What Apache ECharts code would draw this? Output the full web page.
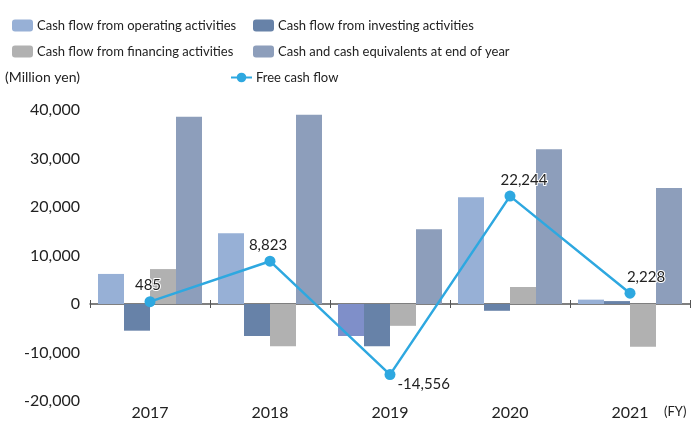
<!DOCTYPE html>
<html>
<head>
<meta charset="utf-8">
<style>
  html, body { margin: 0; padding: 0; background: #fff; }
  #main { width: 694px; height: 422px; }
</style>
<script src="https://cdn.jsdelivr.net/npm/echarts@6/dist/echarts.min.js"></script>
</head>
<body>
<div id="main"></div>
<script>
// values (million yen)
const years = ['2017', '2018', '2019', '2020', '2021'];
const operating = [6200, 14600, -6600, 22000, 900];
const investing = [-5500, -6600, -8700, -1400, 600];
const financing = [7200, -8700, -4500, 3500, -8800];
const cashEnd = [38600, 39000, 15400, 31900, 23900];
const freeCash = [485, 8823, -14556, 22244, 2228];

const names = [
    'Cash flow from operating activities',
    'Cash flow from investing activities',
    'Cash flow from financing activities',
    'Cash and cash equivalents at end of year',
    'Free cash flow',
];

const FONT = 'Lato';
const TXT = '#222';

// one FCF label sits differently per point
const fcfLabels = [
    { position: 'top', distance: 3, offset: [-2, 0] },
    { position: 'top', distance: 3, offset: [-2, 0] },
    { position: 'right', distance: 2, offset: [0, 10] },
    { position: 'top', distance: 3, offset: [14, 0] },
    { position: 'top', distance: 3, offset: [16, 0] },
];

function legendAt(name, left, top) {
    return {
        data: [name],
        left: left,
        top: top,
        itemWidth: 21,
        itemHeight: 12,
        itemGap: 0,
        padding: 0,
        textStyle: { fontFamily: FONT, fontSize: 13, color: TXT, padding: [0, 0, 0, -1] },
    };
}

let chart = echarts.init(document.getElementById('main'));

let option = {
    animation: false,
    legend: [
        legendAt(names[0], 12, 19),
        legendAt(names[1], 253, 19),
        legendAt(names[2], 12, 45),
        legendAt(names[3], 253, 45),
        legendAt(names[4], 230, 71),
    ],
    graphic: [
        {
            type: 'text', left: 5, top: 70,
            style: { text: '(Million yen)', font: '14px Lato', fill: TXT },
        },
        {
            type: 'text', left: 664, top: 405,
            style: { text: '(FY)', font: '13px Lato', fill: TXT },
        },
    ],
    grid: { left: 90, right: 4, top: 110, bottom: 21, containLabel: false },
    xAxis: [
        {
            type: 'category',
            data: years,
            position: 'bottom',
            axisLine: { show: false, onZero: false },
            axisTick: { show: false },
            axisLabel: { margin: 4, fontFamily: FONT, fontSize: 16, color: TXT },
        },
        {
            // zero line, ticks pointing down
            type: 'category',
            data: years,
            position: 'bottom',
            axisLine: { show: true, onZero: true, lineStyle: { color: '#555', width: 1.5 } },
            axisTick: { show: true, length: 4, lineStyle: { color: '#555' } },
            axisLabel: { show: false },
        },
        {
            // upper half of the ticks, lifted onto the zero line
            type: 'category',
            data: years,
            position: 'bottom',
            offset: -97,
            axisLine: { show: false, onZero: false },
            axisTick: { show: true, inside: true, length: 4, lineStyle: { color: '#555' } },
            axisLabel: { show: false },
        },
    ],
    yAxis: {
        type: 'value',
        min: -20000,
        max: 40000,
        interval: 10000,
        splitLine: { show: false },
        axisLine: { show: false },
        axisTick: { show: false },
        axisLabel: {
            margin: 10,
            fontFamily: FONT,
            fontSize: 16,
            color: TXT,
            formatter: function (v) {
                return v.toLocaleString('en-US');
            },
        },
    },
    series: [
        {
            name: names[0],
            type: 'bar',
            barWidth: 26,
            barGap: 0,
            itemStyle: { color: '#97b0d6' },
            data: operating.map(function (v, i) {
                // the 2019 bar is drawn in a different tint in the source
                return i === 2 ? { value: v, itemStyle: { color: '#7f8fc9' } } : v;
            }),
        },
        {
            name: names[1],
            type: 'bar',
            barWidth: 26,
            barGap: 0,
            itemStyle: { color: '#6782a8' },
            data: investing,
        },
        {
            name: names[2],
            type: 'bar',
            barWidth: 26,
            barGap: 0,
            itemStyle: { color: '#b1b1b1' },
            data: financing,
        },
        {
            name: names[3],
            type: 'bar',
            barWidth: 26,
            barGap: 0,
            itemStyle: { color: '#8d9ebb' },
            data: cashEnd,
        },
        {
            name: names[4],
            type: 'line',
            symbol: 'circle',
            symbolSize: 11,
            lineStyle: { color: '#2ea8e0', width: 2.5 },
            itemStyle: { color: '#2ea8e0' },
            z: 5,
            label: {
                show: true,
                fontFamily: FONT,
                fontSize: 15,
                color: TXT,
                textBorderColor: '#fff',
                textBorderWidth: 2,
                formatter: function (p) {
                    return p.value.toLocaleString('en-US');
                },
            },
            data: freeCash.map(function (v, i) {
                return { value: v, label: fcfLabels[i] };
            }),
        },
    ],
};

chart.setOption(option);
</script>
</body>
</html>
